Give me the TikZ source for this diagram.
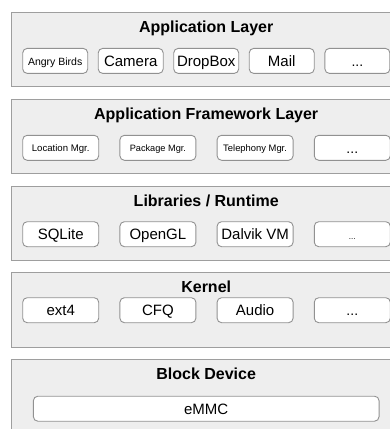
\documentclass[tikz,border=0pt]{standalone}
\usepackage{fontspec}
\setmainfont{Liberation Sans}
\definecolor{layerfill}{RGB}{238,238,238}
\definecolor{layerdraw}{RGB}{158,158,158}
\definecolor{boxdraw}{RGB}{145,145,145}
\tikzset{
  layer/.style={draw=layerdraw, fill=layerfill, line width=1pt, minimum width=389.5pt, minimum height=74.5pt, inner sep=0pt, anchor=north},
  ltitle/.style={anchor=base, inner sep=0pt, font=\fontsize{16}{19}\selectfont\bfseries},
  bx/.style={draw=boxdraw, fill=white, line width=0.9pt, rounded corners=4.5pt, minimum height=25pt, inner sep=0pt, text depth=0pt, text height=10.8pt, font=\fontsize{15}{18}\selectfont},
  bxa/.style={bx, minimum width=65pt},
  bxb/.style={bx, minimum width=76pt},
  small/.style={text height=8.2pt},
}
\begin{document}
\begin{tikzpicture}[x=1pt,y=-1pt]
\useasboundingbox (0,0) rectangle (389,429);
% layers
\node[layer] (L1) at (206.2,11.7) {};
\node[layer] (L2) at (206.2,98.6) {};
\node[layer] (L3) at (206.2,185.5) {};
\node[layer] (L4) at (206.2,272.4) {};
\node[layer] (L5) at (206.2,359.3) {};
% titles
\node[ltitle] (T1) at (206.2,32.3) {Application Layer};
\node[ltitle] (T2) at (206.2,119.2) {Application Framework Layer};
\node[ltitle] (T3) at (206.2,206.1) {Libraries / Runtime};
\node[ltitle] (T4) at (206.2,292.4) {Kernel};
\node[ltitle] (T5) at (206.2,379.3) {Block Device};
% application layer
\node[bxa, small, font=\fontsize{10.5}{12}\selectfont] (ab) at (55.2,60.9) {Angry Birds};
\node[bxa] (cam) at (130.7,60.9) {Camera};
\node[bxa] (drop) at (206.2,60.9) {DropBox};
\node[bxa] (mail) at (281.7,60.9) {Mail};
\node[bxa, font=\fontsize{14}{16}\selectfont] (a5) at (357.4,60.9) {...};
% framework layer
\node[bxb, small, font=\fontsize{9.6}{11}\selectfont] (loc) at (60.7,147.8) {Location Mgr.};
\node[bxb, small, font=\fontsize{9.2}{11}\selectfont] (pkg) at (157.9,147.8) {Package Mgr.};
\node[bxb, small, font=\fontsize{9.4}{11}\selectfont] (tel) at (255.1,147.8) {Telephony Mgr.};
\node[bxb, font=\fontsize{14}{16}\selectfont] (f4) at (352.3,147.8) {...};
% libraries
\node[bxb] (sql) at (60.7,234.2) {SQLite};
\node[bxb] (ogl) at (157.9,234.2) {OpenGL};
\node[bxb] (dvm) at (255.1,234.2) {Dalvik VM};
\node[bxb, font=\fontsize{8}{10}\selectfont] (l4) at (352.3,234.2) {...};
% kernel
\node[bxb] (ext) at (60.7,310.2) {ext4};
\node[bxb] (cfq) at (157.9,310.2) {CFQ};
\node[bxb] (aud) at (255.1,310.2) {Audio};
\node[bxb, font=\fontsize{14}{16}\selectfont] (k4) at (352.3,310.2) {...};
% block device
\node[bx, minimum width=345.7pt] (emmc) at (206.2,408.7) {eMMC};
\end{tikzpicture}
\end{document}
